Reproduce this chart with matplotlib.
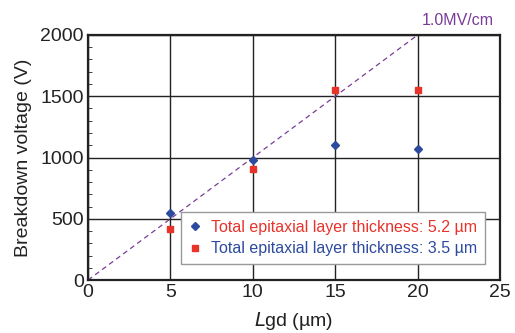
import matplotlib
matplotlib.use('Agg')
from matplotlib import pyplot as plt
from matplotlib.ticker import MultipleLocator

lgd = [5, 10, 15, 20]
bv_52 = [545, 980, 1105, 1070]   # blue diamonds
bv_35 = [415, 905, 1550, 1550]   # red squares
line_x = [0, 20]
line_y = [0, 2000]

blue = '#2d4b9e'
red = '#e8332b'
purple = '#7a3c98'

plt.rcParams['font.family'] = ['Liberation Sans', 'DejaVu Sans']

fig = plt.figure(figsize=(5.15, 3.33), dpi=100)
ax = fig.add_axes([0.171, 0.159, 0.800, 0.736])

ax.plot(line_x, line_y, '--', color=purple, lw=0.9, dashes=(4, 3))
d1, = ax.plot(lgd, bv_52, 'D', color=blue, ms=4.5, ls='none')
d2, = ax.plot(lgd, bv_35, 's', color=red, ms=5, ls='none')

ax.set_xlim(0, 25)
ax.set_ylim(0, 2000)
ax.xaxis.set_major_locator(MultipleLocator(5))
ax.yaxis.set_major_locator(MultipleLocator(500))
ax.yaxis.set_minor_locator(MultipleLocator(100))
ax.grid(True, which='major', color='#222222', lw=1.0)
ax.set_axisbelow(True)
ax.tick_params(direction='in', which='both', labelsize=14, colors='#222222', pad=3)
ax.tick_params(which='minor', length=3)
ax.tick_params(which='major', length=0)
for s in ax.spines.values():
    s.set_linewidth(1.6)
    s.set_color('#222222')

ax.set_ylabel('Breakdown voltage (V)', fontsize=14, color='#222222', labelpad=6)
ax.set_xlabel('$\\it{L}$gd (\u00b5m)', fontsize=14, color='#222222', labelpad=6)

ax.text(0.985, 1.03, '1.0MV/cm', transform=ax.transAxes, color=purple,
        fontsize=11.5, ha='right', va='bottom')

leg = ax.legend([d1, d2],
                ['Total epitaxial layer thickness: 5.2 \u00b5m',
                 'Total epitaxial layer thickness: 3.5 \u00b5m'],
                loc='lower left', bbox_to_anchor=(0.205, 0.032),
                fontsize=11.5, frameon=True, fancybox=False,
                handlelength=0.8, handletextpad=0.6, borderpad=0.5,
                labelspacing=0.4, framealpha=1)
leg.get_frame().set_edgecolor('#999999')
leg.get_frame().set_linewidth(1.0)
leg.get_texts()[0].set_color(red)
leg.get_texts()[1].set_color(blue)

fig.savefig('out.png', dpi=100)
